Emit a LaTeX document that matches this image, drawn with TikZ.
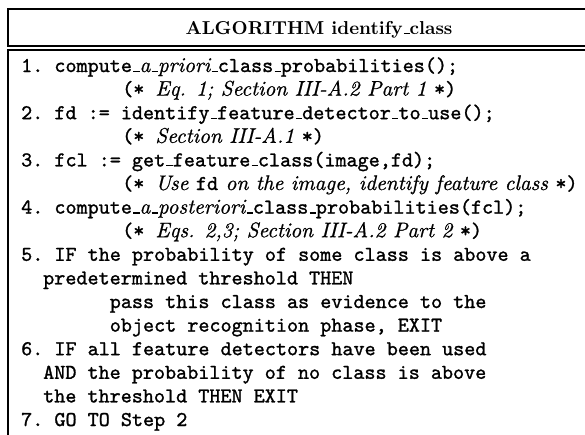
\documentclass[tikz,border=0pt]{standalone}
\usepackage{fontspec}
\setmainfont{lmroman10}[Extension=.otf, UprightFont=*-regular, BoldFont=*-bold, ItalicFont=*-italic, BoldItalicFont=*-bolditalic]
\setmonofont{lmmono10-regular}[Extension=.otf, FakeBold=1.2]
\newfontfamily\cmitfont{lmroman10-italic}[Extension=.otf, FakeBold=0.8]
\newcommand\usc{\leavevmode\kern.06em\vbox{\hrule width.3em height 1.4pt}}
\newcommand\ri[1]{{\cmitfont #1}}
\tikzset{
  tl/.style={anchor=base west, inner sep=0pt, font=\fontsize{21.1}{24}\selectfont\ttfamily},
  hd/.style={anchor=base, inner sep=0pt, font=\fontsize{18.7}{22}\selectfont\bfseries},
  frame/.style={line width=1.4pt}
}
\begin{document}
\begin{tikzpicture}[x=1pt,y=-1pt]
\useasboundingbox (0,0) rectangle (585,434);
\clip (0,0) rectangle (585,434);
\draw[frame] (8,9) rectangle (640,46);
\draw[frame] (8,50) rectangle (640,460);
\node[hd] (title) at (319,34) {ALGORITHM identify\usc class};
\node[tl] (l1) at (21,72) {1. compute\usc\ri{a}\usc\ri{priori}\usc class\usc probabilities();};
\node[tl] (l2) at (122,95.6) {(* \ri{Eq. 1; Section III-A.2 Part 1 }*)};
\node[tl] (l3) at (21,119.2) {2. fd := identify\usc feature\usc detector\usc to\usc use();};
\node[tl] (l4) at (122,142.8) {(* \ri{Section III-A.1 }*)};
\node[tl] (l5) at (21,166.4) {3. fcl := get\usc feature\usc class(image,fd);};
\node[tl] (l6) at (122,190) {(* \ri{Use }fd\ri{ on the image, identify feature class }*)};
\node[tl] (l7) at (21,213.6) {4. compute\usc\ri{a}\usc\ri{posteriori}\usc class\usc probabilities(fcl);};
\node[tl] (l8) at (122,237.2) {(* \ri{Eqs. 2,3; Section III-A.2 Part 2 }*)};
\node[tl] (l9) at (21,260.8) {5. IF the probability of some class is above a};
\node[tl] (l10) at (43,284.4) {predetermined threshold THEN};
\node[tl] (l11) at (109.6,308) {pass this class as evidence to the};
\node[tl] (l12) at (109.6,331.6) {object recognition phase, EXIT};
\node[tl] (l13) at (21,355.2) {6. IF all feature detectors have been used};
\node[tl] (l14) at (43,378.8) {AND the probability of no class is above};
\node[tl] (l15) at (43,402.4) {the threshold THEN EXIT};
\node[tl] (l16) at (21,426) {7. GO TO Step 2};
\end{tikzpicture}
\end{document}
